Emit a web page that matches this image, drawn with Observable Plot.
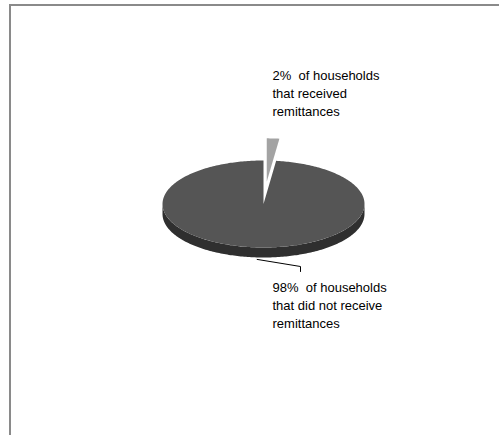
<!DOCTYPE html>
<html>
<head>
<meta charset="utf-8">
<script src="https://cdn.jsdelivr.net/npm/d3@7"></script>
<script src="https://cdn.jsdelivr.net/npm/@observablehq/plot@0.6"></script>
<style>
  html, body { margin: 0; padding: 0; background: #fff; }
  #wrap { position: relative; width: 499px; height: 435px; overflow: hidden; }
  #border { position: absolute; left: 9px; top: 4px; width: 600px; height: 600px;
            border-top: 2px solid #8a8a8a; border-left: 2px solid #8a8a8a; box-sizing: border-box; }
  #chart { position: absolute; left: 0; top: 0; }
</style>
</head>
<body>
<div id="wrap"><div id="border"></div><div id="chart"></div></div>
<script>
// ---- data ----
const categories = ["of households\nthat received\nremittances", "of households\nthat did not receive\nremittances"];
const values = [2, 98];

// ---- layout / style ----
const W = 499, H = 435;
const cx = 263, cy = 203.5, rx = 101, ry = 43.5, depth = 10;
const explode = 0.51;
const sliceColors = ["#a3a3a3", "#555555"];
const sideColor = "#2f2f2f";
const labelPos = [[272, 67], [272, 279]];
const leaderBend = [[300, 266], [300, 271]];

// pixel -> unit helpers (layout constants only)
const ux = px => (px - cx) / rx;
const uy = py => (py - cy) / ry;
const dUnit = depth / ry;

const arcs = d3.pie().sort(null).value(d => d)(values);

function arcPts(a0, a1, ox, oy, dy) {
  const n = Math.max(2, Math.ceil((a1 - a0) / (Math.PI / 180)));
  const pts = [];
  for (let i = 0; i <= n; i++) {
    const a = a0 + (a1 - a0) * i / n;
    pts.push({x: ox + Math.sin(a), y: oy - Math.cos(a) + dy});
  }
  return pts;
}

const tops = [], sides = [];
arcs.forEach((a, i) => {
  const mid = (a.startAngle + a.endAngle) / 2;
  const big = a.endAngle - a.startAngle > Math.PI;
  const e = big ? 0 : explode;
  const ox = e * Math.sin(mid), oy = -e * Math.cos(mid);
  // top face
  const top = [{x: ox, y: oy}, ...arcPts(a.startAngle, a.endAngle, ox, oy, 0), {x: ox, y: oy}];
  tops.push(top.map(p => ({...p, id: i})));
  // visible front wall (angles between pi/2 and 3pi/2)
  const s0 = Math.max(a.startAngle, Math.PI / 2), s1 = Math.min(a.endAngle, 3 * Math.PI / 2);
  if (s1 > s0) {
    const upper = arcPts(s0, s1, ox, oy, 0);
    const lower = arcPts(s0, s1, ox, oy, dUnit).reverse();
    sides.push([...upper, ...lower].map(p => ({...p, id: i})));
  }
});

// leader line for the large slice: from the bottom of its wall at mid-angle to the label
const bigArc = arcs[1];
const bigMid = (bigArc.startAngle + bigArc.endAngle) / 2;
const leader = [
  {x: Math.sin(bigMid), y: -Math.cos(bigMid) + dUnit + 2 / ry},
  ...leaderBend.map(([px, py]) => ({x: ux(px), y: uy(py)}))
];

const labels = arcs.map((a, i) => ({
  x: ux(labelPos[i][0]),
  y: uy(labelPos[i][1]),
  text: `${values[i]}%  ${categories[i]}`
}));

const marks = [];
// exploded small slice drawn first (behind)
marks.push(Plot.line(tops[0], {x: "x", y: "y", fill: sliceColors[0], stroke: "none", curve: "linear"}));
sides.forEach(s => marks.push(Plot.line(s, {x: "x", y: "y", fill: sideColor, stroke: "none", curve: "linear"})));
marks.push(Plot.line(tops[1], {x: "x", y: "y", fill: sliceColors[1], stroke: "none", curve: "linear"}));
marks.push(Plot.line(leader, {x: "x", y: "y", stroke: "#000", strokeWidth: 1, curve: "linear"}));
marks.push(Plot.text(labels, {
  x: "x", y: "y", text: "text",
  textAnchor: "start", lineAnchor: "top",
  fontSize: 13, lineHeight: 18 / 13,
  fontFamily: "'Liberation Sans', Arial, sans-serif",
  fill: "#000"
}));

const chart = Plot.plot({
  width: W, height: H, margin: 0,
  style: {background: "transparent", fontFamily: "'Liberation Sans', Arial, sans-serif"},
  x: {type: "linear", domain: [ux(0), ux(W)], range: [0, W], axis: null},
  y: {type: "linear", domain: [uy(0), uy(H)], range: [0, H], axis: null},
  marks
});
document.getElementById("chart").appendChild(chart);
</script>
</body>
</html>
